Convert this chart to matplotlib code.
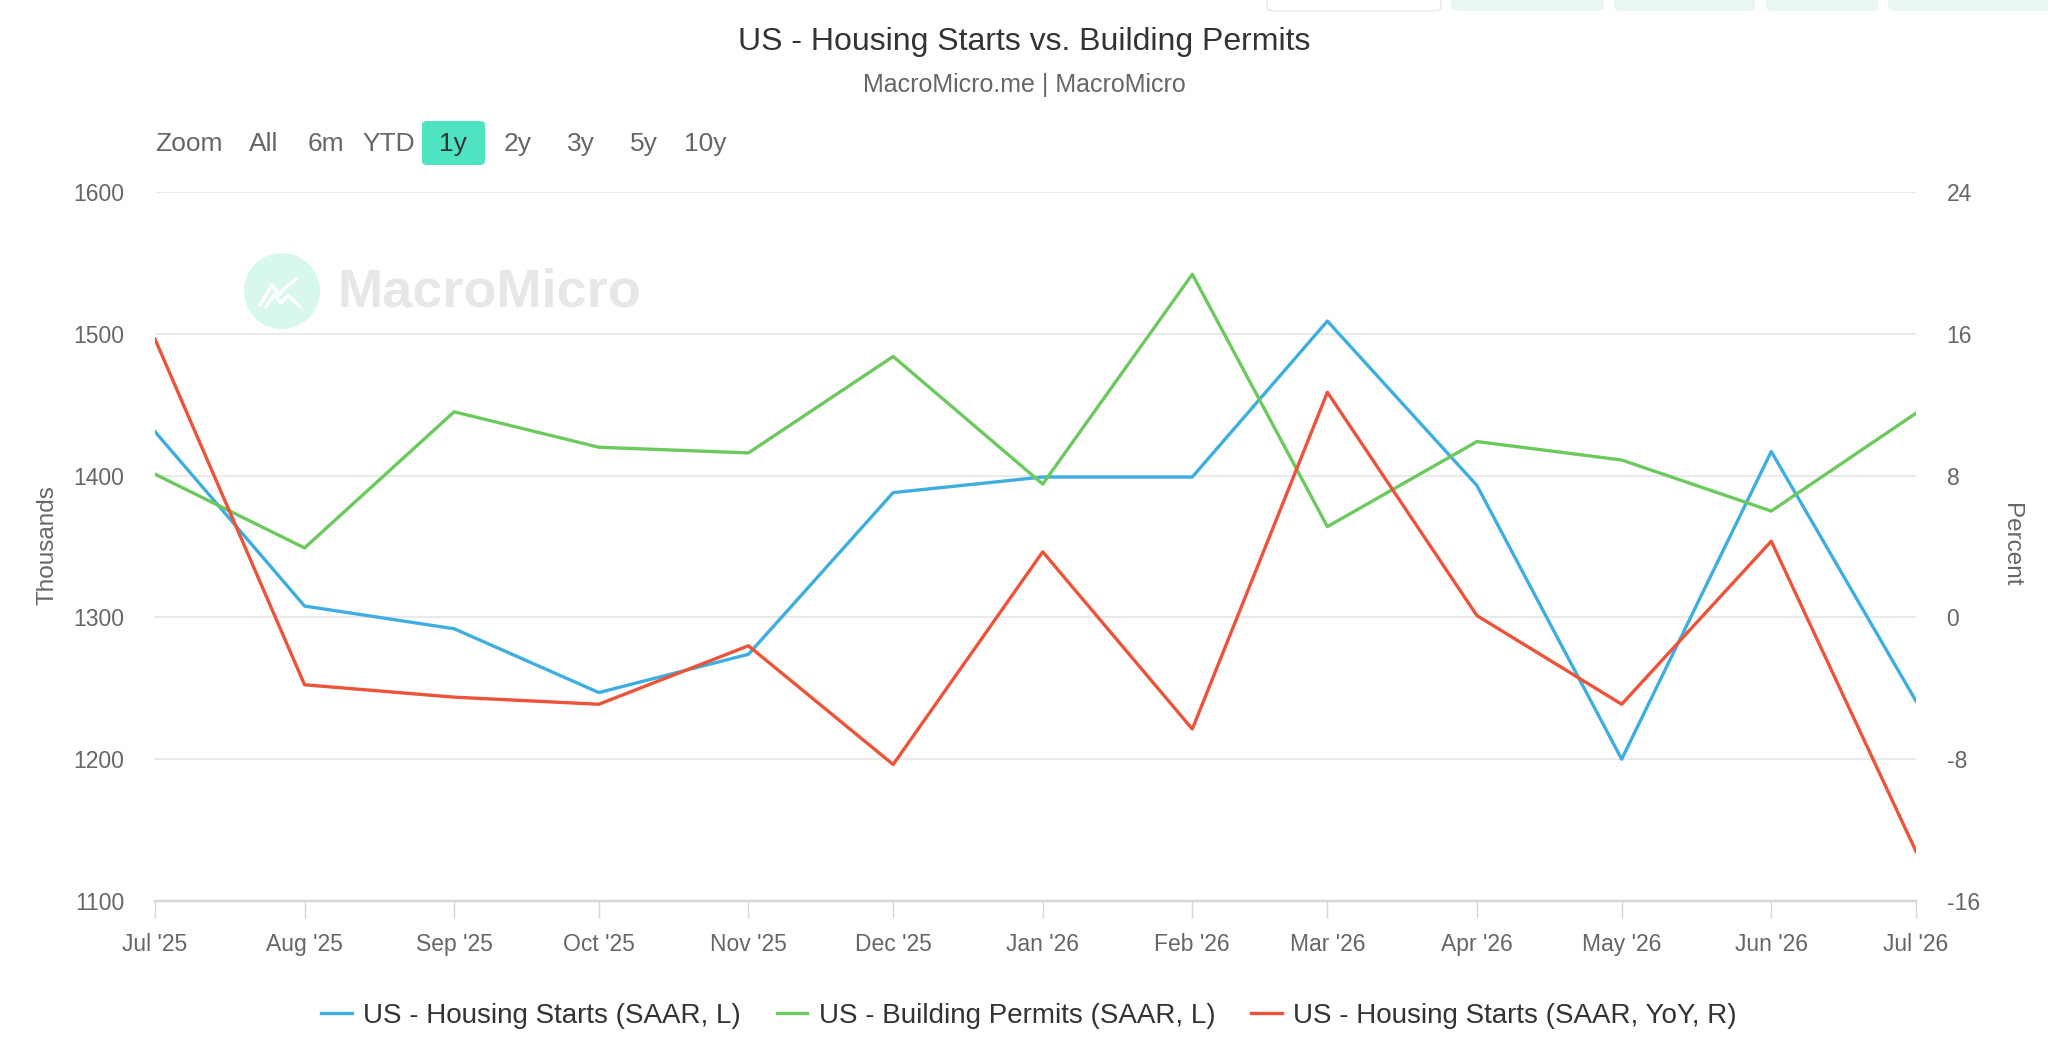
import pandas as pd
import matplotlib
matplotlib.use("Agg")
import matplotlib.pyplot as plt
import matplotlib.dates as mdates
from matplotlib.patches import FancyBboxPatch, Ellipse
from matplotlib.lines import Line2D

# Dados (mensal, Jul/2025 a Jul/2026)
MONTHS = pd.date_range("2025-07-01", "2026-07-01", freq="MS")
HOUSING_STARTS = [1431, 1308, 1292, 1247, 1274, 1388, 1399, 1399, 1509, 1393, 1200, 1417, 1241]
BUILDING_PERMITS = [1401, 1349, 1445, 1420, 1416, 1484, 1394, 1542, 1364, 1424, 1411, 1375, 1444]
STARTS_YOY = [15.7, -3.8, -4.5, -4.9, -1.6, -8.3, 3.7, -6.3, 12.7, 0.1, -4.9, 4.3, -13.2]

LEFT_TICKS = [1100, 1200, 1300, 1400, 1500, 1600]
RIGHT_TICKS = [-16, -8, 0, 8, 16, 24]

LABELS = [
    "US - Housing Starts (SAAR, L)",
    "US - Building Permits (SAAR, L)",
    "US - Housing Starts (SAAR, YoY, R)",
]
COLORS = ["#3eaee0", "#6cc95e", "#ec5339"]
BUTTONS = ["All", "6m", "YTD", "1y", "2y", "3y", "5y", "10y"]

plt.rcParams["font.family"] = ["Liberation Sans", "DejaVu Sans"]
plt.rcParams["axes.unicode_minus"] = False

W, H = 2048, 1063
fig = plt.figure(figsize=(W / 100, H / 100), dpi=100)
fig.patch.set_facecolor("white")

ax = fig.add_axes([155 / W, 1 - 901 / H, (1916 - 155) / W, (901 - 192) / H])
ax2 = ax.twinx()

l1, = ax.plot(MONTHS, HOUSING_STARTS, color=COLORS[0], lw=2.4, label=LABELS[0], zorder=3)
l2, = ax.plot(MONTHS, BUILDING_PERMITS, color=COLORS[1], lw=2.4, label=LABELS[1], zorder=3)
l3, = ax2.plot(MONTHS, STARTS_YOY, color=COLORS[2], lw=2.4, label=LABELS[2], zorder=3)

ax.set_xlim(MONTHS[0], MONTHS[-1])
ax.set_ylim(1100, 1600)
ax2.set_ylim(-16, 24)
ax.set_yticks(LEFT_TICKS)
ax2.set_yticks(RIGHT_TICKS)

ax.xaxis.set_major_locator(mdates.MonthLocator())
ax.xaxis.set_major_formatter(mdates.DateFormatter("%b '%y"))

ax.grid(axis="y", color="#e6e6e6", lw=1.2)
ax.set_axisbelow(True)
for a in (ax, ax2):
    for s in ["top", "left", "right"]:
        a.spines[s].set_visible(False)
    a.spines["bottom"].set_color("#d6d6d6")
    a.spines["bottom"].set_linewidth(1.6)

ax.tick_params(axis="x", colors="#666666", labelsize=16.5, length=12, width=1,
               color="#d6d6d6", pad=11)
ax.tick_params(axis="y", colors="#666666", labelsize=16.5, length=0, pad=22)
ax2.tick_params(axis="y", colors="#666666", labelsize=16.5, length=0, pad=22)
for lab in ax.get_xticklabels() + ax.get_yticklabels() + ax2.get_yticklabels():
    lab.set_color("#666666")

fig.text(47 / W, 1 - 545 / H, "Thousands", rotation=90, ha="center", va="center",
         fontsize=17.5, color="#666666")
fig.text(2011 / W, 1 - 545 / H, "Percent", rotation=-90, ha="center", va="center",
         fontsize=17.5, color="#666666")

# Título e subtítulo
fig.text(0.5, 1 - 42 / H, "US - Housing Starts vs. Building Permits", ha="center", va="center",
         fontsize=23, color="#333333")
fig.text(0.5, 1 - 85 / H, "MacroMicro.me | MacroMicro", ha="center", va="center",
         fontsize=18, color="#666666")

# Marca d'água
cx, cy = 282, 291
fig.patches.append(Ellipse((cx / W, 1 - cy / H), 76 / W, 76 / H, transform=fig.transFigure,
                           facecolor="#d8f7ee", edgecolor="none", zorder=0))
for zig_x, zig_y in [([-22, -10, -3, 4, 14], [-14, 6, -4, 4, 12]),
                     ([-16, -8, -1, 6, 18], [-16, -4, -12, -4, -16])]:
    fig.lines.append(Line2D([(cx + dx) / W for dx in zig_x],
                            [1 - (cy - dy) / H for dy in zig_y],
                            transform=fig.transFigure, color="white", lw=2.5,
                            solid_capstyle="round", zorder=1))
fig.text(337 / W, 1 - 293 / H, "MacroMicro", ha="left", va="center", fontsize=39,
         fontweight="bold", color="#e6e7e9", zorder=1)

# Seletor de período
fig.text(155 / W, 1 - 144 / H, "Zoom", ha="left", va="center", fontsize=19, color="#666666")
btn_x = [264, 326, 389, 453, 518, 581, 644, 705]
fig.patches.append(FancyBboxPatch((422 / W, 1 - 165 / H), 63 / W, 44 / H,
                                  boxstyle="round,pad=0,rounding_size=0.003",
                                  transform=fig.transFigure, facecolor="#4fe3c2",
                                  edgecolor="none", zorder=0))
for bx, name in zip(btn_x, BUTTONS):
    fig.text(bx / W, 1 - 144 / H, name, ha="center", va="center", fontsize=19,
             color="#333333" if name == "1y" else "#666666")

# Botões cortados no topo direito
for x0, x1, fc, ec in [(1267, 1441, "white", "#e8e8e8"), (1451, 1604, "#e9f6f2", "none"),
                       (1614, 1755, "#e9f6f2", "none"), (1766, 1878, "#e9f6f2", "none"),
                       (1888, 2060, "#e9f6f2", "none")]:
    fig.patches.append(FancyBboxPatch((x0 / W, 1 - 11 / H), (x1 - x0) / W, 20 / H,
                                      boxstyle="round,pad=0,rounding_size=0.004",
                                      transform=fig.transFigure, facecolor=fc,
                                      edgecolor=ec, lw=1, zorder=0))

fig.legend(handles=[l1, l2, l3], loc="center", bbox_to_anchor=(1029 / W, 1 - 1016 / H),
           ncol=3, frameon=False, fontsize=20, handlelength=1.1, handletextpad=0.4,
           columnspacing=1.3, labelcolor="#333333")

fig.savefig("out.png", dpi=100, facecolor="white")
